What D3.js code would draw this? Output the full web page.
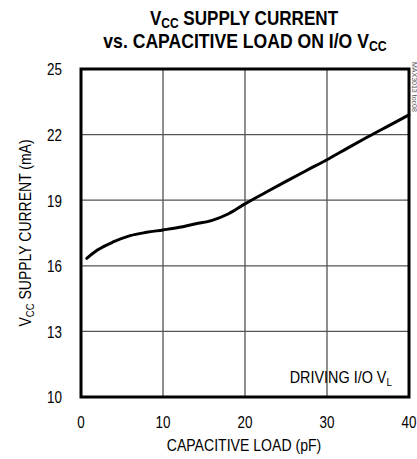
<!DOCTYPE html>
<html><head><meta charset="utf-8">
<script src="https://cdn.jsdelivr.net/npm/d3@7"></script>
<style>
html,body{margin:0;padding:0;background:#fff;}
svg{display:block;}
text{font-family:"Liberation Sans Narrow","Liberation Sans",Arial,sans-serif;fill:#000;}
</style></head>
<body>
<svg id="c" width="417" height="459"></svg>
<script>
const capacitance = [0.7, 2, 4, 6, 8, 10, 12, 14, 16, 18, 20, 22.5, 25, 27.5, 30, 32.5, 35, 37.5, 40];
const supplyCurrent = [16.34, 16.72, 17.1, 17.38, 17.53, 17.64, 17.76, 17.92, 18.08, 18.38, 18.83, 19.35, 19.86, 20.36, 20.85, 21.38, 21.9, 22.4, 22.9];
const xTicks = [0, 10, 20, 30, 40];
const yTicks = [10, 13, 16, 19, 22, 25];

const svg = d3.select("#c");
const L = 81, R = 409, T = 69, B = 397;
const x = d3.scaleLinear().domain([0, 40]).range([L, R]);
const y = d3.scaleLinear().domain([10, 25]).range([B, T]);

// gridlines
svg.append("g").selectAll("line").data(xTicks.slice(1, -1)).join("line")
  .attr("x1", d => x(d)).attr("x2", d => x(d)).attr("y1", T).attr("y2", B)
  .attr("stroke", "#444").attr("stroke-width", 1.2);
svg.append("g").selectAll("line").data(yTicks.slice(1, -1)).join("line")
  .attr("y1", d => y(d)).attr("y2", d => y(d)).attr("x1", L).attr("x2", R)
  .attr("stroke", "#555").attr("stroke-width", 1.2);

// curve
const line = d3.line().x((d, i) => x(capacitance[i])).y(d => y(d)).curve(d3.curveMonotoneX);
svg.append("path").attr("d", line(supplyCurrent)).attr("fill", "none")
  .attr("stroke", "#000").attr("stroke-width", 3).attr("stroke-linecap", "round");

// frame
svg.append("rect").attr("x", L).attr("y", T).attr("width", R - L).attr("height", B - T)
  .attr("fill", "none").attr("stroke", "#000").attr("stroke-width", 3);

const SX = 0.84;
// tick labels
svg.append("g").selectAll("text").data(yTicks).join("text")
  .attr("transform", d => `translate(62,${y(d)}) scale(${SX},1)`).attr("dy", "0.4em").attr("text-anchor", "end")
  .attr("font-size", 16).text(d => d);
svg.append("g").selectAll("text").data(xTicks).join("text")
  .attr("transform", d => `translate(${x(d)},428) scale(${SX},1)`).attr("text-anchor", "middle")
  .attr("font-size", 16).text(d => d);

// axis titles
svg.append("text").attr("transform", "translate(244,451) scale(0.88,1)").attr("text-anchor", "middle")
  .attr("font-size", 16).text("CAPACITIVE LOAD (pF)");
const yt = svg.append("text").attr("transform", "translate(31,233) rotate(-90) scale(0.875,1)")
  .attr("text-anchor", "middle").attr("font-size", 16);
yt.append("tspan").text("V");
yt.append("tspan").attr("font-size", 11).attr("dy", 3).text("CC");
yt.append("tspan").attr("dy", -3).text(" SUPPLY CURRENT (mA)");

// title
const t1 = svg.append("text").attr("transform", "translate(244,25) scale(0.855,1)").attr("text-anchor", "middle")
  .attr("font-size", 20).attr("font-weight", "bold");
t1.append("tspan").text("V");
t1.append("tspan").attr("font-size", 14).attr("dy", 3).text("CC");
t1.append("tspan").attr("dy", -3).text(" SUPPLY CURRENT");
const t2 = svg.append("text").attr("transform", "translate(245,48) scale(0.88,1)").attr("text-anchor", "middle")
  .attr("font-size", 20).attr("font-weight", "bold");
t2.append("tspan").text("vs. CAPACITIVE LOAD ON I/O V");
t2.append("tspan").attr("font-size", 14).attr("dy", 3).text("CC");

// annotation
const an = svg.append("text").attr("transform", "translate(392,383) scale(0.9,1)").attr("text-anchor", "end")
  .attr("font-size", 16);
an.append("tspan").text("DRIVING I/O V");
an.append("tspan").attr("font-size", 11).attr("dy", 3).text("L");

// side label
svg.append("text").attr("transform", "translate(412,62) rotate(90)")
  .attr("font-size", 7).style("fill", "#555").text("MAX3013 toc08");
</script>
</body></html>
